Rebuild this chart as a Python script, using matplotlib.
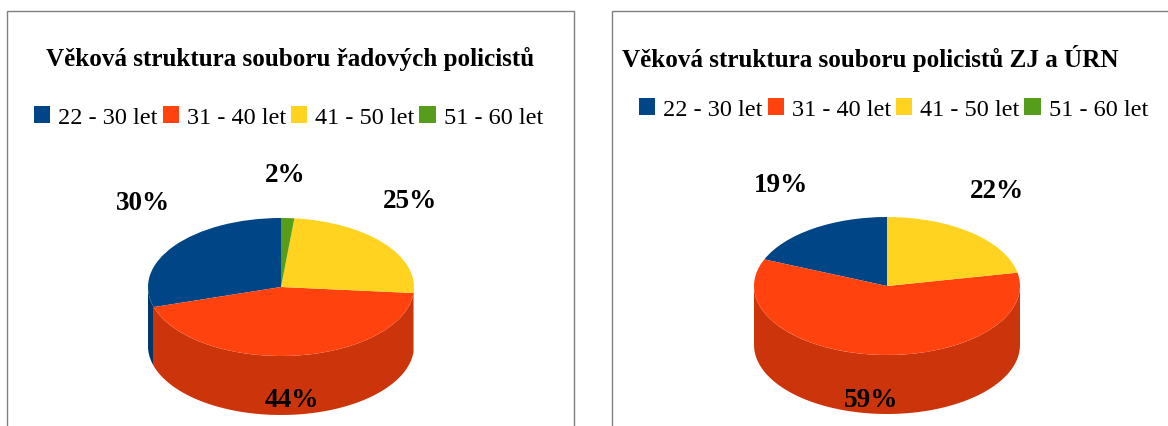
import numpy as np
import matplotlib
matplotlib.use("Agg")
import matplotlib.pyplot as plt
from matplotlib.patches import Rectangle

plt.rcParams['font.family'] = ['Liberation Serif', 'DejaVu Serif']

W = 1168
H = 427

age_groups = ["22 - 30 let", "31 - 40 let", "41 - 50 let", "51 - 60 let"]
colors = ["#004586", "#FF420E", "#FFD320", "#579D1C"]

title_left = "Věková struktura souboru řadových policistů"
values_left = [29.7, 43.9, 24.8, 1.6]
labels_left = ["30%", "44%", "25%", "2%"]

title_right = "Věková struktura souboru policistů ZJ a ÚRN"
values_right = [18.7, 59.4, 21.9, 0]
labels_right = ["19%", "59%", "22%", ""]


def dark(hex_color, amount=0.8):
    rgb = np.array(matplotlib.colors.to_rgb(hex_color))
    return tuple(rgb * amount)


def px_text(fig, x, y, s, **kw):
    fig.text(x / W, 1 - y / H, s, ha="center", va="center", **kw)


def pie_3d(fig, values, cx, cy, rx, ry, depth):
    # one data unit is rx wide and ry high, so the unit circle comes out squashed
    xmax = 1.2
    ymax = 1.2
    ymin = -1.2 - depth / ry
    left = cx - xmax * rx
    bottom = H - cy + ymin * ry
    ax = fig.add_axes([left / W, bottom / H, 2 * xmax * rx / W, (ymax - ymin) * ry / H])
    wedges, _ = ax.pie(values, colors=colors, startangle=90, counterclock=True,
                       wedgeprops={"linewidth": 0})
    ax.set_aspect("auto")
    ax.set_xlim(-xmax, xmax)
    ax.set_ylim(ymin, ymax)
    ax.axis("off")

    # side wall, only the front half of the rim shows
    angle = 90.0
    total = sum(values)
    d = depth / ry
    for value, color in zip(values, colors):
        end = angle + 360.0 * value / total
        for shift in (0, -360):
            a = max(angle + shift, 180)
            b = min(end + shift, 360)
            if b > a:
                t = np.radians(np.linspace(a, b, 80))
                xs = np.concatenate([np.cos(t), np.cos(t)[::-1]])
                ys = np.concatenate([np.sin(t), np.sin(t)[::-1] - d])
                ax.fill(xs, ys, color=dark(color), linewidth=0, zorder=0)
        angle = end
    return wedges


fig = plt.figure(figsize=(W / 100, H / 100), dpi=100)

# chart frames run off the bottom (and on the right, off the side) of the picture
fig.add_artist(Rectangle((6.5 / W, -0.2), 567 / W, 1.2 - 11.5 / H, transform=fig.transFigure,
                         facecolor="none", edgecolor="#808080", linewidth=1))
fig.add_artist(Rectangle((612 / W, -0.2), 600 / W, 1.2 - 11.5 / H, transform=fig.transFigure,
                         facecolor="none", edgecolor="#808080", linewidth=1))

w_left = pie_3d(fig, values_left, 281, 288, 133, 69, 59)
w_right = pie_3d(fig, values_right, 887, 287, 133, 69, 59)

px_text(fig, 290, 59, title_left, fontsize=18.1, fontweight="bold")
px_text(fig, 870.5, 59, title_right, fontsize=18.1, fontweight="bold")

for wedges, x, y in [(w_left, 34, 118), (w_right, 639, 110)]:
    fig.legend(wedges, age_groups, loc="center left", bbox_to_anchor=(x / W, 1 - y / H),
               ncols=4, fontsize=17.5, frameon=False, borderpad=0, borderaxespad=0,
               handlelength=0.667, handleheight=0.667, handletextpad=0.33, columnspacing=0.2)

label_pos_left = [(143, 204), (292, 401), (410, 201), (285, 176)]
label_pos_right = [(781, 186), (871, 401), (997, 191), (0, 0)]
for labels, positions in [(labels_left, label_pos_left), (labels_right, label_pos_right)]:
    for s, (x, y) in zip(labels, positions):
        if s:
            px_text(fig, x, y, s, fontsize=19.5, fontweight="bold")

fig.savefig("out.png", dpi=100)
